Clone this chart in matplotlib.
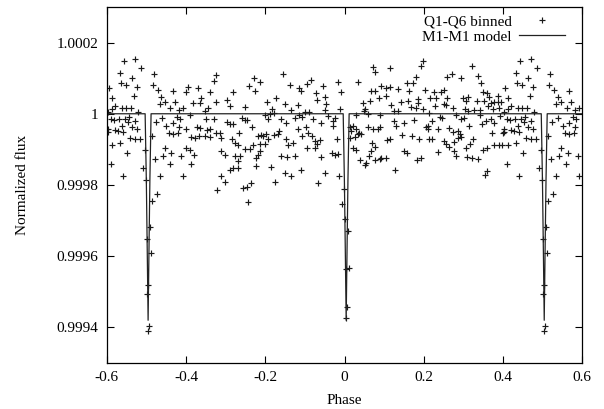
import numpy as np
import matplotlib
matplotlib.use('Agg')
import matplotlib.pyplot as plt

# ---------------- data (phase, flux offset from 1 in ppm) ----------------
# binned points read in base phase interval [-0.5, 0.5); the plot repeats them with period 1
pts_a = [  # phase 0.40 .. 0.50
    (0.4437, 147), (0.4706, 155), (0.4857, 128), (0.4328, 114), (0.4639, 100),
    (0.4353, 86), (0.4471, 81), (0.4748, 76), (0.4050, 71), (0.4118, 43),
    (0.4681, 49), (0.4202, 22), (0.4370, 17), (0.4479, 17), (0.4605, 17),
    (0.4017, 5), (0.4134, 13), (0.4790, 5), (0.4101, -14), (0.4185, -18),
    (0.4303, -15), (0.4454, -14), (0.4555, -8), (0.4521, -23), (0.4706, -20),
    (0.4370, -33), (0.4622, -36), (0.4748, -44), (0.4034, -44), (0.4202, -46),
    (0.4017, -52), (0.4286, -49), (0.4412, -52), (0.4580, -68), (0.4706, -72),
    (0.4832, -72), (0.4134, -89), (0.4328, -82), (0.4496, -110), (0.4101, -141),
    (0.4916, -153), (0.4403, -176),
]
pts_secondary = [
    (0.4958, -101), (0.4983, -186), (-0.5000, -353), (-0.5000, -507),
    (-0.4975, -610), (-0.4933, -597), (-0.4958, -482), (-0.4891, -392),
    (-0.4916, -318), (-0.4857, -244), (-0.4731, -226), (-0.4790, -127),
    (-0.4874, -63),
]
pts_b = [  # phase -0.49 .. -0.30
    (-0.4815, 112), (-0.3252, 109), (-0.3303, 93), (-0.4849, 81), (-0.4706, 68),
    (-0.4328, 65), (-0.3950, 76), (-0.3697, 71), (-0.3992, 60), (-0.3387, 60),
    (-0.3613, 43), (-0.3235, 34), (-0.2966, 38), (-0.4622, 46), (-0.4538, 34),
    (-0.4664, 27), (-0.4286, 32), (-0.3824, 30), (-0.4076, 17), (-0.4176, 11),
    (-0.4395, 15), (-0.3655, 30), (-0.3529, 8), (-0.3445, 15), (-0.3908, -4),
    (-0.4605, -11), (-0.4227, -8), (-0.4160, -14), (-0.3487, -16), (-0.3303, -14),
    (-0.2966, -23), (-0.4765, -23), (-0.4496, -33), (-0.4328, -25), (-0.4176, -36),
    (-0.3992, -42), (-0.3723, -36), (-0.3655, -39), (-0.3462, -46), (-0.3387, -44),
    (-0.4429, -55), (-0.4328, -58), (-0.4202, -55), (-0.3866, -65), (-0.3782, -68),
    (-0.3672, -63), (-0.3529, -63), (-0.3403, -65), (-0.3235, -53), (-0.3134, -55),
    (-0.3109, -68), (-0.4538, -96), (-0.4580, -118), (-0.4370, -110), (-0.4118, -120),
    (-0.3992, -96), (-0.3908, -103), (-0.3807, -115), (-0.3109, -105), (-0.3025, -115),
    (-0.4412, -140), (-0.3866, -140), (-0.3109, -176), (-0.3008, -193), (-0.3218, -214),
    (-0.4076, -174), (-0.4664, -174),
]
pts_c = [  # phase -0.30 .. -0.08
    (-0.1554, 112), (-0.2286, 100), (-0.2143, 90), (-0.2420, 77), (-0.2252, 63),
    (-0.2815, 60), (-0.1386, 81), (-0.1160, 71), (-0.1092, 65), (-0.0941, 84),
    (-0.0840, 96), (-0.2899, 22), (-0.2504, 19), (-0.1723, 43), (-0.1512, 27),
    (-0.1176, 24), (-0.1949, 34), (-0.1832, 13), (-0.1344, 11), (-0.1008, 5),
    (-0.0907, 5), (-0.2899, -30), (-0.2815, -30), (-0.2588, -11), (-0.2521, -18),
    (-0.2454, -18), (-0.2336, -36), (-0.2000, -4), (-0.1933, -14), (-0.1891, -1),
    (-0.1781, 3), (-0.1597, -14), (-0.1470, -27), (-0.1260, -11), (-0.1160, -4),
    (-0.1076, -8), (-0.0966, -36), (-0.0798, -16), (-0.2672, -55), (-0.2185, -63),
    (-0.2118, -61), (-0.2059, -63), (-0.1975, -58), (-0.1933, -72), (-0.1781, -61),
    (-0.1681, -58), (-0.1664, -49), (-0.1487, -71), (-0.1176, -42), (-0.1076, -63),
    (-0.0924, -53), (-0.0823, -63), (-0.2840, -72), (-0.2773, -82), (-0.2689, -89),
    (-0.2504, -99), (-0.2395, -99), (-0.2311, -89), (-0.2143, -86), (-0.2017, -86),
    (-0.2185, -115), (-0.2227, -124), (-0.2143, -105), (-0.1428, -89), (-0.1302, -82),
    (-0.0941, -96), (-0.0756, -97), (-0.2773, -120), (-0.2647, -120), (-0.2689, -134),
    (-0.2815, -153), (-0.2899, -157), (-0.2689, -153), (-0.1849, -150), (-0.2227, -146),
    (-0.1597, -118), (-0.1445, -121), (-0.1260, -120), (-0.1109, -157), (-0.1512, -167),
    (-0.1361, -175), (-0.1748, -191), (-0.2563, -209), (-0.2454, -205), (-0.2353, -195),
    (-0.2437, -249),
]
pts_d = [  # phase -0.08 .. 0.13
    (0.0714, 131), (0.0756, 117), (0.1134, 128), (-0.0169, 88), (0.0335, 88),
    (-0.0547, 77), (-0.0085, 62), (0.0924, 77), (0.1033, 71), (0.1134, 74),
    (0.1344, 70), (0.0672, 65), (0.0756, 65), (0.0865, 43), (0.1050, 49),
    (-0.0732, 58), (-0.0698, 39), (-0.0505, 46), (-0.0463, 27), (-0.0505, 11),
    (-0.0110, 13), (0.0462, 30), (0.0630, 36), (0.0504, 13), (0.1176, 24),
    (-0.0589, -25), (-0.0421, -6), (-0.0295, -20), (-0.0253, -11), (0.0293, -4),
    (0.0478, 8), (0.0588, -2), (0.0899, -4), (0.1260, -20), (0.1302, -33),
    (-0.0295, -34), (0.0125, -36), (0.0167, -49), (0.0209, -33), (0.0293, -42),
    (0.0361, -55), (0.0420, -58), (0.0588, -36), (0.0714, -42), (0.0840, -42),
    (0.0882, -36), (-0.0194, -70), (0.0125, -68), (0.0251, -65), (0.0335, -58),
    (0.0697, -82), (0.0756, -93), (0.1067, -74), (0.1134, -72), (-0.0757, -77),
    (-0.0698, -84), (-0.0631, -74), (-0.0312, -110), (-0.0253, -115), (-0.0169, -112),
    (-0.0589, -122), (0.0209, -96), (0.0293, -103), (0.0613, -118), (0.0672, -105),
    (0.0378, -129), (0.0504, -143), (0.0529, -137), (0.0756, -129), (0.0882, -127),
    (0.0924, -124), (0.1050, -124), (-0.0505, -167), (-0.0673, -195), (-0.0143, -174),
    (0.1285, -159),
]
pts_primary = [
    (-0.0026, -212), (-0.0060, -254), (-0.0001, -295), (0.0083, -328),
    (0.0024, -436), (0.0100, -434), (0.0058, -543), (0.0024, -574),
]
pts_e = [  # phase 0.13 .. 0.35
    (0.1974, 147), (0.1932, 134), (0.3210, 134), (0.2705, 112), (0.2588, 103),
    (0.2941, 100), (0.3378, 107), (0.3445, 87), (0.1806, 103), (0.1579, 87),
    (0.1722, 87), (0.1638, 65), (0.2033, 68), (0.2252, 62), (0.2436, 60),
    (0.2504, 68), (0.3487, 62), (0.2588, 43), (0.2983, 43), (0.3126, 46),
    (0.3067, 36), (0.3344, 36), (0.1428, 32), (0.1613, 36), (0.1848, 41),
    (0.1865, 30), (0.2168, 43), (0.2310, 43), (0.1680, 20), (0.1806, 15),
    (0.1974, 13), (0.2285, 22), (0.2521, 27), (0.2563, 24), (0.2731, 15),
    (0.3042, 13), (0.3109, 8), (0.3277, 11), (0.3428, 11), (0.1260, 8),
    (0.1344, 8), (0.2142, 1), (0.2420, -8), (0.2453, -11), (0.2815, -4),
    (0.2941, -16), (0.3025, -11), (0.3428, -4), (0.1512, -27), (0.1764, -18),
    (0.2058, -36), (0.2100, -33), (0.2201, -20), (0.2369, -42), (0.2647, -39),
    (0.2731, -52), (0.2924, -58), (0.2941, -65), (0.2857, -49), (0.3151, -34),
    (0.3462, -30), (0.1445, -61), (0.1697, -63), (0.1890, -72), (0.2142, -70),
    (0.2201, -72), (0.2100, -42), (0.2521, -77), (0.2563, -84), (0.2647, -93),
    (0.2773, -80), (0.2857, -68), (0.3067, -96), (0.3235, -70), (0.3176, -84),
    (0.3487, -101), (0.1512, -105), (0.1579, -110), (0.2352, -108), (0.2756, -105),
    (0.2815, -120), (0.3092, -121), (0.3210, -124), (0.3361, -127), (0.1831, -131),
    (0.1932, -124),
]
pts_f = [  # phase 0.35 .. 0.40
    (0.3588, 58), (0.3529, 36), (0.3655, 46), (0.3781, 34), (0.3865, 34),
    (0.3949, 32), (0.3697, 30), (0.3865, 51), (0.3907, 17), (0.3739, 13),
    (0.3613, 22), (0.3697, -16), (0.3781, -25), (0.3571, -20), (0.3722, -55),
    (0.3991, -53), (0.3781, -89), (0.3890, -89), (0.3974, -89), (0.3588, -96),
    (0.3554, -172), (0.3588, -162), (0.3924, -6),
]

# model: flat level with eclipse profile at each eclipse centre
ecl_centers = [-0.496, 0.004, 0.504]
ecl_offsets = [-0.0075, -0.0045, -0.002, 0.0, 0.002, 0.0045, 0.0075]
ecl_ppm = [0, -186, -400, -580, -400, -186, 0]

x_ticks = [-0.6, -0.4, -0.2, 0.0, 0.2, 0.4, 0.6]
x_tick_labels = ['-0.6', '-0.4', '-0.2', '0', '0.2', '0.4', '0.6']
y_ticks = [0.9994, 0.9996, 0.9998, 1.0, 1.0002]
y_tick_labels = ['0.9994', '0.9996', '0.9998', '1', '1.0002']

# ---------------- build ----------------
groups = [pts_a, pts_secondary, pts_b, pts_c, pts_d, pts_primary, pts_e, pts_f]
base_phase = np.array([p for g in groups for p, _ in g])
base_flux = 1.0 + np.array([v for g in groups for _, v in g]) * 1e-6

xs, ys = [], []
for shift in (-1, 0, 1):
    xx = base_phase + shift
    m = (xx >= -0.6) & (xx <= 0.6)
    xs.append(xx[m]); ys.append(base_flux[m])
xs = np.concatenate(xs); ys = np.concatenate(ys)

mx, my = [-0.6], [1.0]
for c in ecl_centers:
    for o, d in zip(ecl_offsets, ecl_ppm):
        mx.append(c + o); my.append(1.0 + d * 1e-6)
mx.append(0.6); my.append(1.0)

plt.rcParams['font.family'] = ['Liberation Serif', 'DejaVu Serif']
fs = 11

fig = plt.figure(figsize=(6.04, 4.09), dpi=100)
ax = fig.add_axes([0.177, 0.1125, 0.787, 0.8705])

ax.plot(xs, ys, linestyle='none', marker='+', markersize=4.8, mew=0.85,
        color='#1a1a1a', label='Q1-Q6 binned')
ax.plot(mx, my, '-', color='#222222', lw=0.9, label='M1-M1 model')

ax.set_xlim(-0.6, 0.6)
ax.set_ylim(0.9993, 1.0003)
ax.set_xticks(x_ticks)
ax.set_xticklabels(x_tick_labels, fontsize=fs)
ax.set_yticks(y_ticks)
ax.set_yticklabels(y_tick_labels, fontsize=fs)
ax.tick_params(direction='in', length=5, width=0.8, top=True, right=True, pad=6)
for s in ax.spines.values():
    s.set_linewidth(0.9)
ax.set_xlabel('Phase', fontsize=fs, labelpad=7)
ax.set_ylabel('Normalized flux', fontsize=fs, labelpad=20)

leg = ax.legend(loc='upper right', frameon=False, markerfirst=False, numpoints=1,
                fontsize=fs, handlelength=3.0, handletextpad=0.5,
                borderaxespad=0.0, labelspacing=0.08,
                bbox_to_anchor=(571 / 604, 1 - 9 / 409),
                bbox_transform=fig.transFigure)

fig.savefig('out.png', dpi=100)
